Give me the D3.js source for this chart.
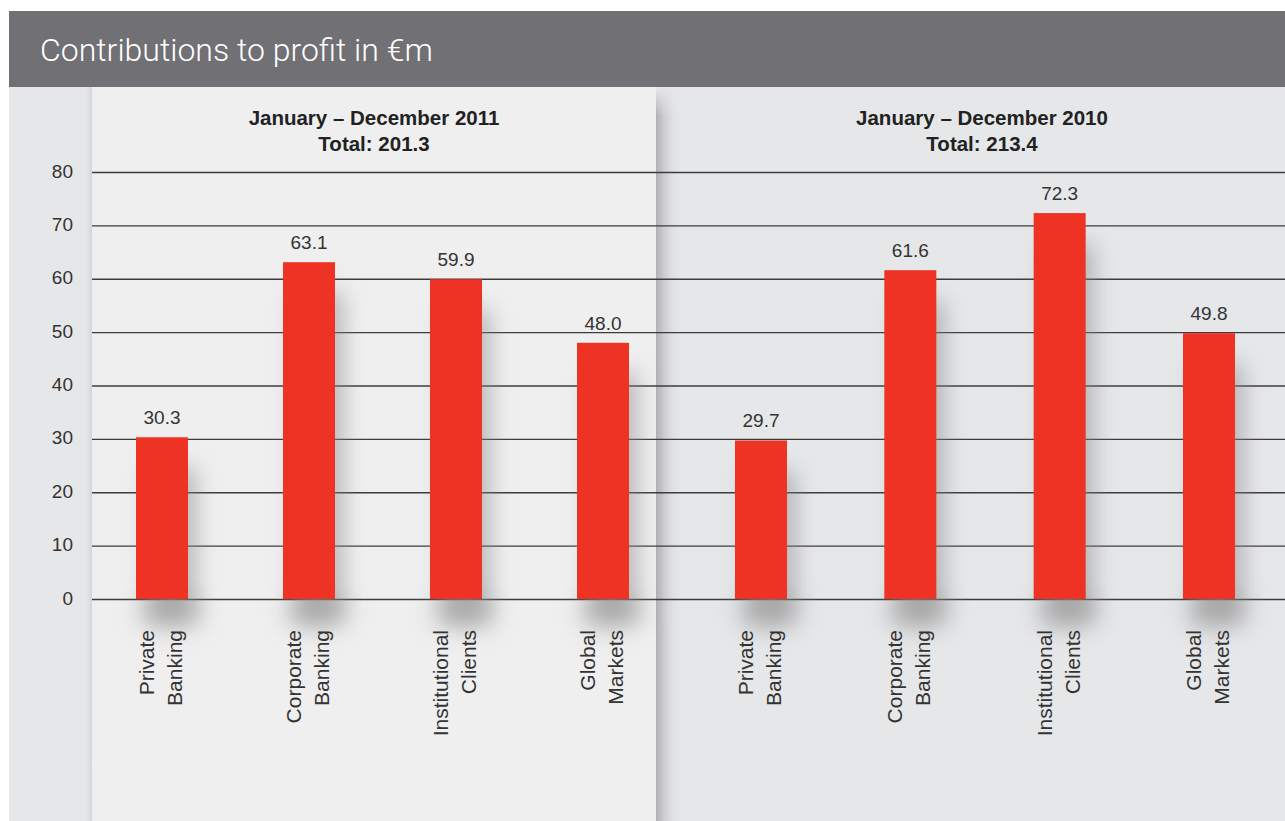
<!DOCTYPE html>
<html lang="en">
<head>
  <meta charset="utf-8">
  <title>Contributions to profit</title>
  <script src="https://d3js.org/d3.v7.min.js"></script>
<style>
body{
  margin:0px;
  background-color:#fff;
  overflow:hidden;
  font-family:"Liberation Sans", Arial, sans-serif;
}
</style>
</head>
<body>
<svg width="1285" height="821"></svg>

<script>

// data
var categories = ["Private Banking", "Corporate Banking", "Institutional Clients", "Global Markets"];
var values2011 = [30.3, 63.1, 59.9, 48.0];
var values2010 = [29.7, 61.6, 72.3, 49.8];
var yTicks = [0, 10, 20, 30, 40, 50, 60, 70, 80];
var panelTitles = ["January \u2013 December 2011", "January \u2013 December 2010"];
var panelTotals = ["Total: 201.3", "Total: 213.4"];

var svg = d3.select("svg"),
    width = +svg.attr("width"),
    height = +svg.attr("height");

var red = "#ee3224",
    textColor = "#333";

var y = d3.scaleLinear().domain([0, 80]).range([599, 172]);

var panels = [
  {x0: 92, x1: 656, bg: "#efefef", values: values2011, range: [162, 603], head: 374},
  {x0: 656, x1: 1285, bg: "#e6e7e9", values: values2010, range: [761, 1209], head: 982}
];

var defs = svg.append("defs");

defs.append("filter")
    .attr("id", "blur")
    .attr("x", "-100%").attr("y", "-50%")
    .attr("width", "300%").attr("height", "200%")
  .append("feGaussianBlur")
    .attr("stdDeviation", 11);

defs.append("filter")
    .attr("id", "blurWide")
    .attr("x", "-100%").attr("y", "-100%")
    .attr("width", "300%").attr("height", "300%")
  .append("feGaussianBlur")
    .attr("stdDeviation", 13);

var grad = defs.append("linearGradient").attr("id", "edge");
grad.append("stop").attr("offset", "0%").attr("stop-color", "#a9a9ac").attr("stop-opacity", 0.9);
grad.append("stop").attr("offset", "100%").attr("stop-color", "#e6e7e9").attr("stop-opacity", 0);

var gradV = defs.append("linearGradient").attr("id", "fadeTop")
    .attr("x1", 0).attr("x2", 0).attr("y1", 0).attr("y2", 1);
gradV.append("stop").attr("offset", "0%").attr("stop-color", "#fff").attr("stop-opacity", 0);
gradV.append("stop").attr("offset", "4%").attr("stop-color", "#fff").attr("stop-opacity", 1);
gradV.append("stop").attr("offset", "100%").attr("stop-color", "#fff").attr("stop-opacity", 1);

defs.append("mask").attr("id", "edgeMask")
  .append("rect")
    .attr("x", 656).attr("y", 87)
    .attr("width", 30).attr("height", height - 87)
    .attr("fill", "url(#fadeTop)");

var gradL = defs.append("linearGradient").attr("id", "edgeL");
gradL.append("stop").attr("offset", "0%").attr("stop-color", "#e6e7e9").attr("stop-opacity", 0);
gradL.append("stop").attr("offset", "100%").attr("stop-color", "#d2d3d6").attr("stop-opacity", 1);

// background
svg.append("rect")
    .attr("x", 9).attr("y", 87)
    .attr("width", width - 9).attr("height", height - 87)
    .attr("fill", "#e6e7e9");

panels.forEach(function(p) {
  svg.append("rect")
      .attr("x", p.x0).attr("y", 87)
      .attr("width", p.x1 - p.x0).attr("height", height - 87)
      .attr("fill", p.bg);
});

// soft shadows at panel edges
svg.append("rect")
    .attr("x", 84).attr("y", 87)
    .attr("width", 8).attr("height", height - 87)
    .attr("fill", "url(#edgeL)");

svg.append("rect")
    .attr("x", 656).attr("y", 87)
    .attr("width", 26).attr("height", height - 87)
    .attr("fill", "url(#edge)")
    .attr("mask", "url(#edgeMask)");

// title bar
svg.append("rect")
    .attr("x", 9).attr("y", 11)
    .attr("width", width - 9).attr("height", 76)
    .attr("fill", "#707075");

svg.append("text")
    .attr("x", 40).attr("y", 61)
    .attr("fill", "#fff")
    .style("font-family", "Roboto, 'Liberation Sans', sans-serif")
    .style("font-weight", 300)
    .style("font-size", "32px")
    .text("Contributions to profit in \u20acm");

// gridlines
svg.append("g")
  .selectAll("line")
  .data(yTicks)
  .enter()
    .append("line")
      .attr("x1", 92).attr("x2", width)
      .attr("y1", function(d) { return y(d) + 0.5; })
      .attr("y2", function(d) { return y(d) + 0.5; })
      .attr("stroke", "#3c3c3c")
      .attr("stroke-width", 1.3);

// y axis labels
var yAxis = svg.append("g")
    .attr("transform", "translate(73,-1)")
    .call(d3.axisLeft(y).tickValues(yTicks).tickSize(0).tickPadding(0));

yAxis.select(".domain").remove();
yAxis.selectAll("text")
    .attr("fill", textColor)
    .style("font-size", "19px")
    .style("font-family", "'Liberation Sans', Arial, sans-serif");

panels.forEach(function(p, pi) {
  var x = d3.scalePoint().domain(categories).range(p.range);
  var barW = 52;
  var g = svg.append("g");

  var data = categories.map(function(c, i) { return {cat: c, value: p.values[i]}; });

  // bar shadows
  g.selectAll(".shadow")
    .data(data)
    .enter()
      .append("rect")
        .attr("class", "shadow")
        .attr("x", function(d) { return x(d.cat) - barW / 2 + 12; })
        .attr("y", function(d) { return y(d.value) + 30; })
        .attr("width", barW - 4)
        .attr("height", function(d) { return y(0) - y(d.value) - 10; })
        .attr("fill", "#8a8a8a")
        .attr("opacity", 0.55)
        .attr("filter", "url(#blur)");

  g.selectAll(".shadowBottom")
    .data(data)
    .enter()
      .append("ellipse")
        .attr("class", "shadowBottom")
        .attr("cx", function(d) { return x(d.cat) + 8; })
        .attr("cy", y(0) + 14)
        .attr("rx", 30)
        .attr("ry", 15)
        .attr("fill", "#8a8a8a")
        .attr("opacity", 0.5)
        .attr("filter", "url(#blurWide)");

  // bars
  g.selectAll(".bar")
    .data(data)
    .enter()
      .append("rect")
        .attr("class", "bar")
        .attr("x", function(d) { return x(d.cat) - barW / 2; })
        .attr("y", function(d) { return y(d.value); })
        .attr("width", barW)
        .attr("height", function(d) { return y(0) - y(d.value); })
        .attr("fill", red);

  // value labels
  g.selectAll(".val")
    .data(data)
    .enter()
      .append("text")
        .attr("class", "val")
        .attr("x", function(d) { return x(d.cat); })
        .attr("y", function(d) { return y(d.value) - 13; })
        .attr("text-anchor", "middle")
        .attr("fill", textColor)
        .style("font-size", "19px")
        .text(function(d) { return d3.format(".1f")(d.value); });

  // category labels, rotated, two lines
  data.forEach(function(d) {
    var words = d.cat.split(" ");
    var t = g.append("text")
        .attr("transform", "translate(" + x(d.cat) + ",630) rotate(-90)")
        .attr("text-anchor", "end")
        .attr("fill", textColor)
        .style("font-size", "21px");
    words.forEach(function(w, i) {
      t.append("tspan")
          .attr("x", 0)
          .attr("y", i == 0 ? -8 : 20)
          .text(w);
    });
  });

  // panel header
  svg.append("text")
      .attr("x", p.head).attr("y", 125)
      .attr("text-anchor", "middle")
      .attr("fill", "#222")
      .style("font-size", "20.5px")
      .style("font-weight", "bold")
      .text(panelTitles[pi]);

  svg.append("text")
      .attr("x", p.head).attr("y", 151)
      .attr("text-anchor", "middle")
      .attr("fill", "#222")
      .style("font-size", "20.5px")
      .style("font-weight", "bold")
      .text(panelTotals[pi]);
});

</script>
</body>
</html>
